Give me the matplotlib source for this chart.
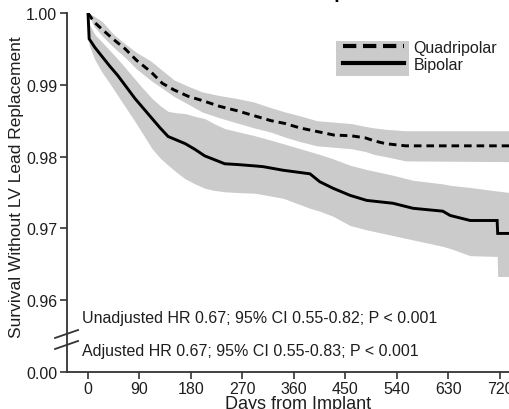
import matplotlib
matplotlib.use("Agg")
import matplotlib.pyplot as plt
from matplotlib.patches import Rectangle
from matplotlib.lines import Line2D

plt.rcParams['font.family'] = ['Liberation Sans', 'DejaVu Sans']

# ---------------- data ----------------
q_days = [0, 10, 25, 45, 65, 85, 110, 130, 150, 175, 200, 230, 260, 290, 320, 345,
          370, 400, 430, 460, 485, 500, 520, 555, 737]
q_surv = [1.0, 0.9988, 0.9977, 0.9963, 0.9950, 0.9934, 0.9918, 0.9902, 0.9893, 0.9884,
          0.9878, 0.9870, 0.9864, 0.9857, 0.9850, 0.9846, 0.9840, 0.9835, 0.9830, 0.9829,
          0.9826, 0.9822, 0.9818, 0.9815, 0.9815]
q_hi = [1.0, 0.9996, 0.9988, 0.9970, 0.9957, 0.9945, 0.9933, 0.9920, 0.9907, 0.9898,
        0.9890, 0.9885, 0.9881, 0.9876, 0.9868, 0.9862, 0.9857, 0.9850, 0.9848, 0.9846,
        0.9842, 0.9840, 0.9838, 0.9836, 0.9836]
q_lo = [1.0, 0.9982, 0.9968, 0.9952, 0.9938, 0.9922, 0.9906, 0.9895, 0.9884, 0.9873,
        0.9862, 0.9854, 0.9847, 0.9840, 0.9834, 0.9827, 0.9821, 0.9815, 0.9813, 0.9811,
        0.9807, 0.9803, 0.9800, 0.9794, 0.9793]

b_days = [0, 2, 12, 24, 38, 52, 67, 82, 97, 112, 126, 140, 155, 170, 187, 204, 220, 239,
          260, 292, 306, 341, 388, 405, 428, 458, 487, 533, 568, 620, 633, 668, 715, 716,
          737]
b_surv = [1.0, 0.9964, 0.9952, 0.9940, 0.9926, 0.9913, 0.9897, 0.9881, 0.9867, 0.9853,
          0.9840, 0.9828, 0.9823, 0.9818, 0.9810, 0.9801, 0.9796, 0.9790, 0.9789, 0.9787,
          0.9786, 0.9781, 0.9776, 0.9765, 0.9756, 0.9746, 0.9739, 0.9735, 0.9728, 0.9724,
          0.9718, 0.9711, 0.9711, 0.9693, 0.9693]
b_hi = [1.0, 0.9985, 0.9970, 0.9960, 0.9948, 0.9936, 0.9922, 0.9908, 0.9894, 0.9881,
        0.9871, 0.9863, 0.9861, 0.9860, 0.9856, 0.9853, 0.9846, 0.9839, 0.9835, 0.9829,
        0.9826, 0.9818, 0.9807, 0.9803, 0.9797, 0.9788, 0.9782, 0.9774, 0.9767, 0.9762,
        0.9760, 0.9757, 0.9752, 0.9752, 0.9750]
b_lo = [1.0, 0.9955, 0.9935, 0.9918, 0.9902, 0.9885, 0.9867, 0.9849, 0.9830, 0.9811,
        0.9798, 0.9788, 0.9778, 0.9769, 0.9762, 0.9756, 0.9753, 0.9751, 0.9750, 0.9749,
        0.9747, 0.9742, 0.9728, 0.9724, 0.9717, 0.9704, 0.9698, 0.9690, 0.9684, 0.9675,
        0.9672, 0.9662, 0.9661, 0.9633, 0.9633]

x_ticks = [0, 90, 180, 270, 360, 450, 540, 630, 720]
y_ticks = [0.95, 0.96, 0.97, 0.98, 0.99, 1.00]
y_ticklabels = ['0.00', '0.96', '0.97', '0.98', '0.99', '1.00']
series_labels = ['Quadripolar', 'Bipolar']
stat_lines = ['Unadjusted HR 0.67; 95% CI 0.55-0.82; P < 0.001',
              'Adjusted HR 0.67; 95% CI 0.55-0.83; P < 0.001']

# ---------------- figure ----------------
W, H = 510, 410
fig = plt.figure(figsize=(W / 100, H / 100), dpi=100)
ax = fig.add_axes([67 / W, (H - 373) / H, 443 / W, 359 / H])

band = '#cbcbcb'
txt = '#1e1e1e'
spine_c = '#333333'

ax.fill_between(q_days, q_lo, q_hi, color=band, lw=0, zorder=1)
ax.fill_between(b_days, b_lo, b_hi, color=band, lw=0, zorder=1)
ax.plot(b_days, b_surv, color='black', lw=2.1, zorder=3, solid_joinstyle='miter')
ax.plot(q_days, q_surv, color='black', lw=2.1, dashes=(2.6, 1.7), zorder=3)

ax.set_xlim(-36.7, 737.5)
ax.set_ylim(0.95, 1.0)
ax.set_xticks(x_ticks)
ax.set_xticklabels([str(t) for t in x_ticks])
ax.set_yticks(y_ticks)
ax.set_yticklabels(y_ticklabels)

for s in ['top', 'right']:
    ax.spines[s].set_visible(False)
for s in ['left', 'bottom']:
    ax.spines[s].set_color(spine_c)
    ax.spines[s].set_linewidth(1.3)
ax.tick_params(axis='both', direction='out', length=5, width=1.2, color=spine_c,
               labelsize=11.5, labelcolor=txt, pad=2)
ax.tick_params(axis='x', pad=1.2)

ax.set_ylabel('Survival Without LV Lead Replacement', fontsize=12.5, color=txt)
ax.yaxis.set_label_coords(-0.097, 0.518)
ax.set_xlabel('Days from Implant', fontsize=13, color=txt)
ax.xaxis.set_label_coords(0.521, -0.064)

# stats text
ax.text(0.034, 0.153, stat_lines[0], transform=ax.transAxes, fontsize=11.5,
        color=txt, va='center', ha='left')
ax.text(0.034, 0.0585, stat_lines[1], transform=ax.transAxes, fontsize=11.5,
        color=txt, va='center', ha='left')

# axis break marks
for y0, y1 in [(0.0948, 0.1170), (0.0641, 0.0864)]:
    ax.plot([-0.027, 0.025], [y0, y1], transform=ax.transAxes, color=spine_c,
            lw=1.3, clip_on=False, zorder=5)

# legend with gray box behind handles
ax.add_patch(Rectangle(((336 - 67) / 443, (373 - 77) / 359), 73 / 443, 35 / 359,
                       transform=ax.transAxes, facecolor=band, edgecolor='none',
                       zorder=4, clip_on=False))
handles = [Line2D([], [], color='black', lw=3.0, dashes=(3.2, 1.6)),
           Line2D([], [], color='black', lw=3.0)]
leg = ax.legend(handles, series_labels, loc='upper left',
                bbox_to_anchor=((343 - 67) / 443, (373 - 41) / 359),
                frameon=False, fontsize=11.5, handlelength=3.8, handletextpad=0.6,
                borderpad=0, borderaxespad=0, labelspacing=0.12)
leg.set_zorder(6)
for t in leg.get_texts():
    t.set_color(txt)

# title (cropped at the top of the original)
fig.text(230 / W, 1 + 2.5 / H, 'LV Lead Replacement', ha='left', va='baseline',
         fontsize=14, fontweight='bold', color='black')

fig.savefig('out.png', dpi=100)
